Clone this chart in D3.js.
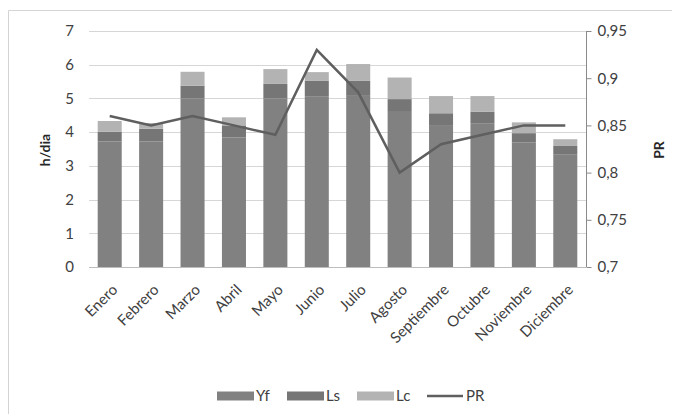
<!DOCTYPE html>
<html>
<head>
<meta charset="utf-8">
<script src="https://cdn.jsdelivr.net/npm/d3@7/dist/d3.min.js"></script>
<style>
  html, body { margin: 0; padding: 0; background: #fff; }
  svg { display: block; font-family: Lato, "Liberation Sans", sans-serif; }
</style>
</head>
<body>
<svg id="chart" width="681" height="414"></svg>
<script>
// Monthly energy yield and losses (h/día) with performance ratio
const months = ["Enero", "Febrero", "Marzo", "Abril", "Mayo", "Junio", "Julio",
  "Agosto", "Septiembre", "Octubre", "Noviembre", "Diciembre"];
const yf = [3.72, 3.72, 5.00, 3.84, 5.00, 5.05, 5.10, 4.60, 4.21, 4.25, 3.69, 3.33];
const ls = [0.29, 0.38, 0.38, 0.36, 0.43, 0.48, 0.42, 0.38, 0.35, 0.36, 0.28, 0.26];
const lc = [0.32, 0.17, 0.41, 0.24, 0.44, 0.25, 0.50, 0.64, 0.51, 0.46, 0.32, 0.20];
const pr = [0.86, 0.85, 0.86, 0.85, 0.84, 0.93, 0.885, 0.80, 0.83, 0.84, 0.85, 0.85];
const leftTicks = [0, 1, 2, 3, 4, 5, 6, 7];
const rightTicks = [0.7, 0.75, 0.8, 0.85, 0.9, 0.95];
const seriesNames = ["Yf", "Ls", "Lc"];
const seriesColors = ["#818181", "#767676", "#b3b3b3"];

const svg = d3.select("#chart");
const plot = { left: 89, right: 586, top: 31, bottom: 267 };
const labelFont = "Lato, 'Liberation Sans', sans-serif";

// Chart frame
svg.append("path")
  .attr("d", "M8.5,414 V10.5 H672")
  .attr("fill", "none").attr("stroke", "#d4d4d4").attr("stroke-width", 1);

const x = d3.scaleBand().domain(months)
  .range([plot.left, plot.right]).paddingInner(0.42).paddingOuter(0.21);
const y = d3.scaleLinear().domain([0, 7]).range([plot.bottom, plot.top]);
const y2 = d3.scaleLinear().domain([0.7, 0.95]).range([plot.bottom, plot.top]);

// Horizontal gridlines
svg.append("g").selectAll("line").data(leftTicks).join("line")
  .attr("x1", plot.left).attr("x2", plot.right)
  .attr("y1", d => Math.round(y(d)) + 0.5).attr("y2", d => Math.round(y(d)) + 0.5)
  .attr("stroke", d => d === 0 ? "#bdbdbd" : "#d6d6d6").attr("stroke-width", 1);

// Stacked bars
const rows = months.map((m, i) => ({ month: m, Yf: yf[i], Ls: ls[i], Lc: lc[i] }));
const stacked = d3.stack().keys(seriesNames)(rows);
svg.append("g").selectAll("g").data(stacked).join("g")
  .attr("fill", (d, i) => seriesColors[i])
  .selectAll("rect").data(d => d).join("rect")
  .attr("x", d => x(d.data.month))
  .attr("width", x.bandwidth())
  .attr("y", d => y(d[1]))
  .attr("height", d => y(d[0]) - y(d[1]));

// Left axis (labels only)
const leftAxis = svg.append("g")
  .attr("transform", `translate(${plot.left - 15},0)`)
  .call(d3.axisLeft(y).tickValues(leftTicks).tickSize(0).tickPadding(0).tickFormat(d3.format("d")));
leftAxis.select(".domain").remove();
leftAxis.selectAll("text").attr("font-size", 15).attr("fill", "#404040")
  .attr("font-family", labelFont);

// Right axis with Spanish decimal comma
const fmtComma = d => String(d).replace(".", ",");
const rightAxis = svg.append("g")
  .attr("transform", `translate(${plot.right + 0.5},0)`)
  .call(d3.axisRight(y2).tickValues(rightTicks).tickSize(5).tickPadding(6).tickFormat(fmtComma));
rightAxis.select(".domain").attr("stroke", "#8a8a8a").attr("d", `M0,${plot.top} V${plot.bottom}`);
rightAxis.selectAll(".tick line").attr("stroke", "#8a8a8a");
rightAxis.selectAll("text").attr("font-size", 15).attr("fill", "#404040")
  .attr("font-family", labelFont);

// PR line
const line = d3.line()
  .x((d, i) => x(months[i]) + x.bandwidth() / 2)
  .y(d => y2(d));
svg.append("path").datum(pr)
  .attr("d", line)
  .attr("fill", "none").attr("stroke", "#5f5f5f").attr("stroke-width", 2.5)
  .attr("stroke-linejoin", "miter");

// Month labels, rotated
svg.append("g").selectAll("text").data(months).join("text")
  .attr("transform", d => `translate(${x(d) + x.bandwidth() / 2 + 5},${plot.bottom + 20}) rotate(-45)`)
  .attr("text-anchor", "end")
  .attr("dy", "0.35em")
  .attr("font-size", 15).attr("fill", "#404040")
  .text(d => d);

// Axis titles
svg.append("text")
  .attr("transform", `translate(50,150) rotate(-90)`)
  .attr("text-anchor", "middle")
  .attr("font-size", 14).attr("font-weight", "bold").attr("fill", "#262626")
  .text("h/dia");
svg.append("text")
  .attr("transform", `translate(664,150) rotate(-90)`)
  .attr("text-anchor", "middle")
  .attr("font-size", 14).attr("font-weight", "bold").attr("fill", "#262626")
  .text("PR");

// Legend
const legendItems = [
  { name: "Yf", color: seriesColors[0], type: "rect", x: 217 },
  { name: "Ls", color: seriesColors[1], type: "rect", x: 287 },
  { name: "Lc", color: seriesColors[2], type: "rect", x: 357 },
  { name: "PR", color: "#5f5f5f", type: "line", x: 427 }
];
const legend = svg.append("g").selectAll("g").data(legendItems).join("g")
  .attr("transform", d => `translate(${d.x},396)`);
legend.filter(d => d.type === "rect").append("rect")
  .attr("x", 0).attr("y", -4.5).attr("width", 37).attr("height", 9)
  .attr("fill", d => d.color);
legend.filter(d => d.type === "line").append("line")
  .attr("x1", 0).attr("x2", 36).attr("y1", 0).attr("y2", 0)
  .attr("stroke", d => d.color).attr("stroke-width", 2.5);
legend.append("text")
  .attr("x", 39).attr("dy", "0.35em")
  .attr("font-size", 15).attr("fill", "#404040")
  .text(d => d.name);
</script>
</body>
</html>
